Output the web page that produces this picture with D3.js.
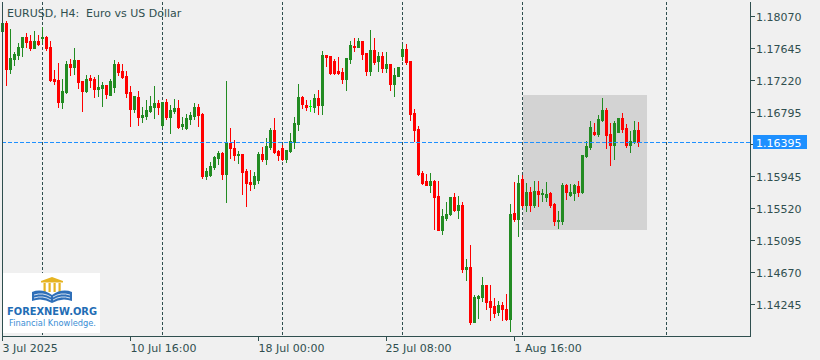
<!DOCTYPE html>
<html>
<head>
<meta charset="utf-8">
<script src="https://cdn.jsdelivr.net/npm/d3@7"></script>
<style>
  html, body { margin: 0; padding: 0; background: #f0f0f0; }
  svg { display: block; }
  text { font-family: "DejaVu Sans", sans-serif; }
</style>
</head>
<body>
<div id="chart"></div>
<script>
// EURUSD H4 bars, 3 Jul 2025 08:00 .. 8 Aug 2025 20:00
const openP = [
  1.17871,1.17977,1.17366,1.17499,1.17552,1.17658,1.17791,1.17738,1.17645,1.17738,
  1.17778,1.17791,1.17658,1.17233,1.17220,1.16928,1.17061,1.17433,1.17393,1.17486,
  1.17207,1.17074,1.17247,1.17233,1.17100,1.17114,1.17154,1.17021,1.17127,1.17433,
  1.17340,1.17273,1.17061,1.16835,1.16994,1.16729,1.16742,1.16808,1.16861,1.16915,
  1.16622,1.16928,1.16729,1.16808,1.16848,1.16609,1.16583,1.16702,1.16742,1.16861,
  1.16768,1.15945,1.15958,1.16065,1.16184,1.16250,1.15972,1.16383,1.16317,1.16224,
  1.16237,1.16011,1.15865,1.15839,1.15892,1.16237,1.16171,1.16330,1.16556,1.16277,
  1.16317,1.16171,1.16277,1.16397,1.16636,1.16994,1.16888,1.16875,1.16861,1.16981,
  1.16888,1.17552,1.17539,1.17472,1.17340,1.17326,1.17233,1.17499,1.17672,1.17658,
  1.17738,1.17579,1.17340,1.17618,1.17472,1.17539,1.17379,1.17433,1.17167,1.17273,
  1.17539,1.17632,1.17472,1.16782,1.16569,1.15985,1.15879,1.15825,1.15879,1.15679,
  1.15228,1.15387,1.15440,1.15666,1.15493,1.15560,1.14710,1.14736,1.14006,1.14325,
  1.14338,1.14497,1.14285,1.14218,1.14139,1.14232,1.14179,1.14046,1.15454,1.15374,
  1.15905,1.15560,1.15733,1.15560,1.15746,1.15706,1.15666,1.15719,1.15573,1.15347,
  1.15347,1.15825,1.15693,1.15719,1.15812,1.15733,1.16211,1.16330,1.16529,1.16503,
  1.16689,1.16822,1.16503,1.16357,1.16529,1.16715,1.16583,1.16357,1.16397,1.16556
];
const highP = [
  1.17990,1.18004,1.17897,1.17592,1.17711,1.17791,1.17844,1.17818,1.17871,1.17818,
  1.17924,1.17804,1.17738,1.17353,1.17446,1.17233,1.17472,1.17499,1.17645,1.17486,
  1.17207,1.17286,1.17286,1.17260,1.17286,1.17193,1.17154,1.17233,1.17486,1.17459,
  1.17433,1.17340,1.17140,1.17008,1.17074,1.16861,1.16954,1.17008,1.17140,1.16954,
  1.16928,1.16968,1.16888,1.16968,1.16954,1.16729,1.16768,1.16795,1.16915,1.16901,
  1.16782,1.16051,1.16131,1.16211,1.16277,1.16264,1.17207,1.16583,1.16423,1.16277,
  1.16237,1.16038,1.16025,1.15998,1.16264,1.16330,1.16450,1.16583,1.16715,1.16290,
  1.16357,1.16290,1.16516,1.16729,1.17167,1.17008,1.16954,1.16954,1.17034,1.17087,
  1.17605,1.17552,1.17539,1.17499,1.17525,1.17379,1.17512,1.17738,1.17778,1.17778,
  1.17738,1.17579,1.17884,1.17778,1.17592,1.17592,1.17592,1.17433,1.17379,1.17393,
  1.17698,1.17698,1.17472,1.16835,1.16609,1.16011,1.15972,1.15985,1.15892,1.15879,
  1.15507,1.15600,1.15666,1.15719,1.15679,1.15600,1.14843,1.15029,1.14365,1.14365,
  1.14604,1.14497,1.14497,1.14325,1.14285,1.14272,1.14378,1.15573,1.15865,1.15958,
  1.15958,1.15852,1.15799,1.15879,1.15879,1.15772,1.15865,1.15733,1.15586,1.15480,
  1.15852,1.15839,1.15839,1.15839,1.15879,1.16224,1.16410,1.16675,1.16649,1.16755,
  1.16981,1.16848,1.16649,1.16675,1.16715,1.16782,1.16636,1.16543,1.16675,1.16662
];
const lowP = [
  1.17871,1.17154,1.17313,1.17419,1.17499,1.17539,1.17658,1.17618,1.17645,1.17685,
  1.17725,1.17618,1.17207,1.17167,1.16861,1.16848,1.17047,1.17286,1.17300,1.17114,
  1.16808,1.17061,1.17127,1.16994,1.17008,1.16875,1.16981,1.17021,1.17061,1.17286,
  1.17247,1.16994,1.16609,1.16795,1.16622,1.16662,1.16702,1.16795,1.16715,1.16768,
  1.16596,1.16702,1.16516,1.16782,1.16583,1.16569,1.16569,1.16636,1.16702,1.16609,
  1.15918,1.15905,1.15945,1.16038,1.16104,1.15905,1.15600,1.16184,1.16158,1.16118,
  1.15706,1.15547,1.15759,1.15786,1.15852,1.16144,1.16104,1.16304,1.16250,1.16158,
  1.16158,1.16131,1.16264,1.16317,1.16556,1.16848,1.16822,1.16808,1.16795,1.16768,
  1.16768,1.17406,1.17300,1.17300,1.17300,1.17180,1.17087,1.17446,1.17605,1.17658,
  1.17499,1.17286,1.17286,1.17433,1.17340,1.17326,1.17326,1.17087,1.17008,1.17273,
  1.17486,1.17433,1.16689,1.16410,1.15958,1.15839,1.15825,1.15733,1.15241,1.15228,
  1.15175,1.15361,1.15427,1.15480,1.15387,1.14670,1.14564,1.13979,1.14006,1.14059,
  1.14285,1.14179,1.14033,1.14072,1.14099,1.14033,1.14033,1.13886,1.15347,1.15148,
  1.15533,1.15480,1.15480,1.15533,1.15547,1.15613,1.15613,1.15533,1.15294,1.15254,
  1.15308,1.15640,1.15679,1.15626,1.15679,1.15719,1.16197,1.16304,1.16490,1.16476,
  1.16675,1.16317,1.16091,1.16171,1.16529,1.16529,1.16330,1.16264,1.16383,1.16343
];
const closeP = [
  1.17977,1.17366,1.17512,1.17565,1.17658,1.17791,1.17725,1.17645,1.17738,1.17698,
  1.17791,1.17645,1.17220,1.17207,1.16928,1.17074,1.17433,1.17393,1.17486,1.17193,
  1.17074,1.17233,1.17220,1.17100,1.17127,1.17154,1.17034,1.17207,1.17433,1.17326,
  1.17260,1.17047,1.16835,1.17008,1.16729,1.16755,1.16822,1.16875,1.16915,1.16861,
  1.16928,1.16729,1.16822,1.16848,1.16596,1.16636,1.16715,1.16755,1.16861,1.16755,
  1.15945,1.16011,1.16078,1.16197,1.16250,1.15972,1.16383,1.16317,1.16224,1.16237,
  1.15998,1.15852,1.15839,1.15945,1.16237,1.16171,1.16343,1.16556,1.16264,1.16224,
  1.16171,1.16290,1.16410,1.16649,1.16994,1.16901,1.16861,1.16875,1.16981,1.16888,
  1.17552,1.17525,1.17313,1.17313,1.17313,1.17233,1.17512,1.17685,1.17658,1.17738,
  1.17565,1.17340,1.17618,1.17459,1.17539,1.17379,1.17433,1.17167,1.17286,1.17393,
  1.17632,1.17459,1.16768,1.16556,1.15972,1.15852,1.15825,1.15879,1.15666,1.15228,
  1.15414,1.15440,1.15666,1.15493,1.15560,1.14710,1.14736,1.14006,1.14338,1.14351,
  1.14497,1.14272,1.14205,1.14125,1.14232,1.14179,1.14046,1.15440,1.15374,1.15852,
  1.15560,1.15733,1.15560,1.15746,1.15706,1.15719,1.15706,1.15560,1.15347,1.15361,
  1.15825,1.15733,1.15733,1.15825,1.15733,1.16224,1.16343,1.16596,1.16503,1.16702,
  1.16822,1.16490,1.16357,1.16649,1.16715,1.16569,1.16357,1.16410,1.16556,1.16395
];

const priceTicks = [1.18070, 1.17645, 1.17220, 1.16795, 1.16370, 1.15945, 1.15520, 1.15095, 1.14670, 1.14245];
const timeLabels = ["3 Jul 2025", "10 Jul 16:00", "18 Jul 00:00", "25 Jul 08:00", "1 Aug 16:00"];
const timeLabelBars = [0, 32, 64, 96, 128];
const separatorBars = [10, 40, 70, 100, 130, 166];
const lastPrice = 1.16395;
// grey box drawn on the chart (bar index / price corners)
const boxBars = [130, 161];
const boxPrices = [1.15228, 1.17021];

const W = 820, H = 360;
const PLOT = { LEFT: 2, RIGHT: 750, TOP: 2, BOTTOM: 336 };
const FG = "#2f4f4f", BULL = "#228b22", BEAR = "#ff0000", DOJI = "#00ff00", BLUE = "#1e90ff";

const bars = openP.map((o, i) => ({ i, o, h: highP[i], l: lowP[i], c: closeP[i] }));

const svg = d3.select("#chart").append("svg")
  .attr("width", W).attr("height", H)
  .style("background", "#f0f0f0");

const x = d3.scaleLinear().domain([0, 186]).range([2.5, 746.5]);
const y = d3.scaleLinear().domain([1.14245, 1.18070]).range([304, 16]);
const py = v => Math.round(y(v));

const plot = svg.append("g").attr("shape-rendering", "crispEdges");

// grey rectangle object
plot.append("rect")
  .attr("x", Math.round(x(boxBars[0])))
  .attr("y", py(boxPrices[1]))
  .attr("width", Math.round(x(boxBars[1])) - Math.round(x(boxBars[0])))
  .attr("height", py(boxPrices[0]) - py(boxPrices[1]))
  .attr("fill", "#d3d3d3");

// period separators
plot.selectAll("line.sep").data(separatorBars).enter().append("line")
  .attr("class", "sep")
  .attr("x1", d => x(d)).attr("x2", d => x(d))
  .attr("y1", PLOT.TOP).attr("y2", PLOT.BOTTOM)
  .attr("stroke", FG).attr("stroke-width", 1)
  .attr("stroke-dasharray", "3,2");

// candles
const colorOf = d => d.c > d.o ? BULL : (d.c < d.o ? BEAR : DOJI);
const candles = plot.selectAll("g.bar").data(bars).enter().append("g").attr("class", "bar");
candles.append("rect")
  .attr("x", d => x(d.i) - 0.5)
  .attr("y", d => py(d.h))
  .attr("width", 1)
  .attr("height", d => py(d.l) - py(d.h) + 1)
  .attr("fill", colorOf);
candles.append("rect")
  .attr("x", d => x(d.i) - 1.5)
  .attr("y", d => py(Math.max(d.o, d.c)))
  .attr("width", 3)
  .attr("height", d => Math.max(1, py(Math.min(d.o, d.c)) - py(Math.max(d.o, d.c)) + 1))
  .attr("fill", colorOf);

// last price line
plot.append("line")
  .attr("x1", PLOT.LEFT).attr("x2", PLOT.RIGHT)
  .attr("y1", py(lastPrice) + 0.5).attr("y2", py(lastPrice) + 0.5)
  .attr("stroke", BLUE).attr("stroke-dasharray", "4,2");

// frame
const frame = svg.append("g").attr("shape-rendering", "crispEdges").attr("stroke", FG).attr("fill", "none");
frame.append("path")
  .attr("d", `M${PLOT.LEFT + 0.5},${PLOT.TOP}V${PLOT.BOTTOM + 0.5}H${PLOT.RIGHT + 0.5}V${PLOT.TOP}`);

// price axis (the label hidden behind the last price tag is skipped)
const tagTop = py(lastPrice) - 7, tagBottom = py(lastPrice) + 7;
const visibleTicks = priceTicks.filter(d => py(d) + 5 < tagTop || py(d) - 5 > tagBottom);
const axY = svg.append("g");
axY.selectAll("line").data(priceTicks).enter().append("line")
  .attr("shape-rendering", "crispEdges")
  .attr("x1", PLOT.RIGHT).attr("x2", PLOT.RIGHT + 5)
  .attr("y1", d => py(d) + 0.5).attr("y2", d => py(d) + 0.5)
  .attr("stroke", FG);
axY.selectAll("text").data(visibleTicks).enter().append("text")
  .attr("x", 756).attr("y", d => py(d) + 4.5)
  .attr("font-size", 11).attr("fill", FG)
  .text(d => d3.format(".5f")(d));

// last price tag
axY.append("rect")
  .attr("x", 753).attr("y", tagTop)
  .attr("width", 54).attr("height", 14)
  .attr("fill", BLUE);
axY.append("text")
  .attr("x", 756).attr("y", py(lastPrice) + 4.5)
  .attr("font-size", 11).attr("fill", "#fff")
  .text(d3.format(".5f")(lastPrice));

// time axis
const axX = svg.append("g");
axX.selectAll("line").data(timeLabelBars).enter().append("line")
  .attr("shape-rendering", "crispEdges")
  .attr("x1", d => x(d)).attr("x2", d => x(d))
  .attr("y1", PLOT.BOTTOM).attr("y2", PLOT.BOTTOM + 5)
  .attr("stroke", FG);
axX.selectAll("text").data(timeLabelBars).enter().append("text")
  .attr("x", d => Math.round(x(d)) - 0.5).attr("y", 352)
  .attr("font-size", 11).attr("fill", FG)
  .text((d, i) => timeLabels[i]);

// title
svg.append("text")
  .attr("x", 7).attr("y", 16.5)
  .attr("font-size", 11).attr("fill", FG)
  .attr("xml:space", "preserve")
  .text("EURUSD, H4:  Euro vs US Dollar");

// watermark logo
const logo = svg.append("g");
logo.append("rect").attr("x", 3).attr("y", 273).attr("width", 97).attr("height", 60).attr("fill", "#fff");
logo.append("path").attr("d", "M41,281 L52,277 L63,281 Z").attr("fill", "#e6b422");
logo.append("rect").attr("x", 41).attr("y", 281).attr("width", 22).attr("height", 1.5).attr("fill", "#e6b422");
[43.5, 48.5, 53.5, 58.5].forEach(cx => {
  logo.append("rect").attr("x", cx).attr("y", 283).attr("width", 2.2).attr("height", 9).attr("fill", "#e6b422");
});
logo.append("path").attr("d", "M32,292 Q42,288 52,295 Q62,288 72,292 L72,301 Q62,297 52,303 Q42,297 32,301 Z").attr("fill", "#2f6fb8");
logo.append("path").attr("d", "M34,295 Q43,292 51,297 M53,297 Q61,292 70,295 M34,298 Q43,295 51,300 M53,300 Q61,295 70,298")
  .attr("stroke", "#fff").attr("stroke-width", 0.8).attr("fill", "none");
logo.append("text").attr("x", 7).attr("y", 314.5)
  .attr("font-size", 11).attr("font-weight", "bold").attr("fill", "#1f6db5")
  .attr("textLength", 90).attr("lengthAdjust", "spacingAndGlyphs")
  .text("FOREXNEW.ORG");
logo.append("text").attr("x", 9).attr("y", 325.5)
  .attr("font-size", 8).attr("fill", "#3b8ed4")
  .attr("textLength", 87).attr("lengthAdjust", "spacingAndGlyphs")
  .text("Financial Knowledge.");
</script>
</body>
</html>
